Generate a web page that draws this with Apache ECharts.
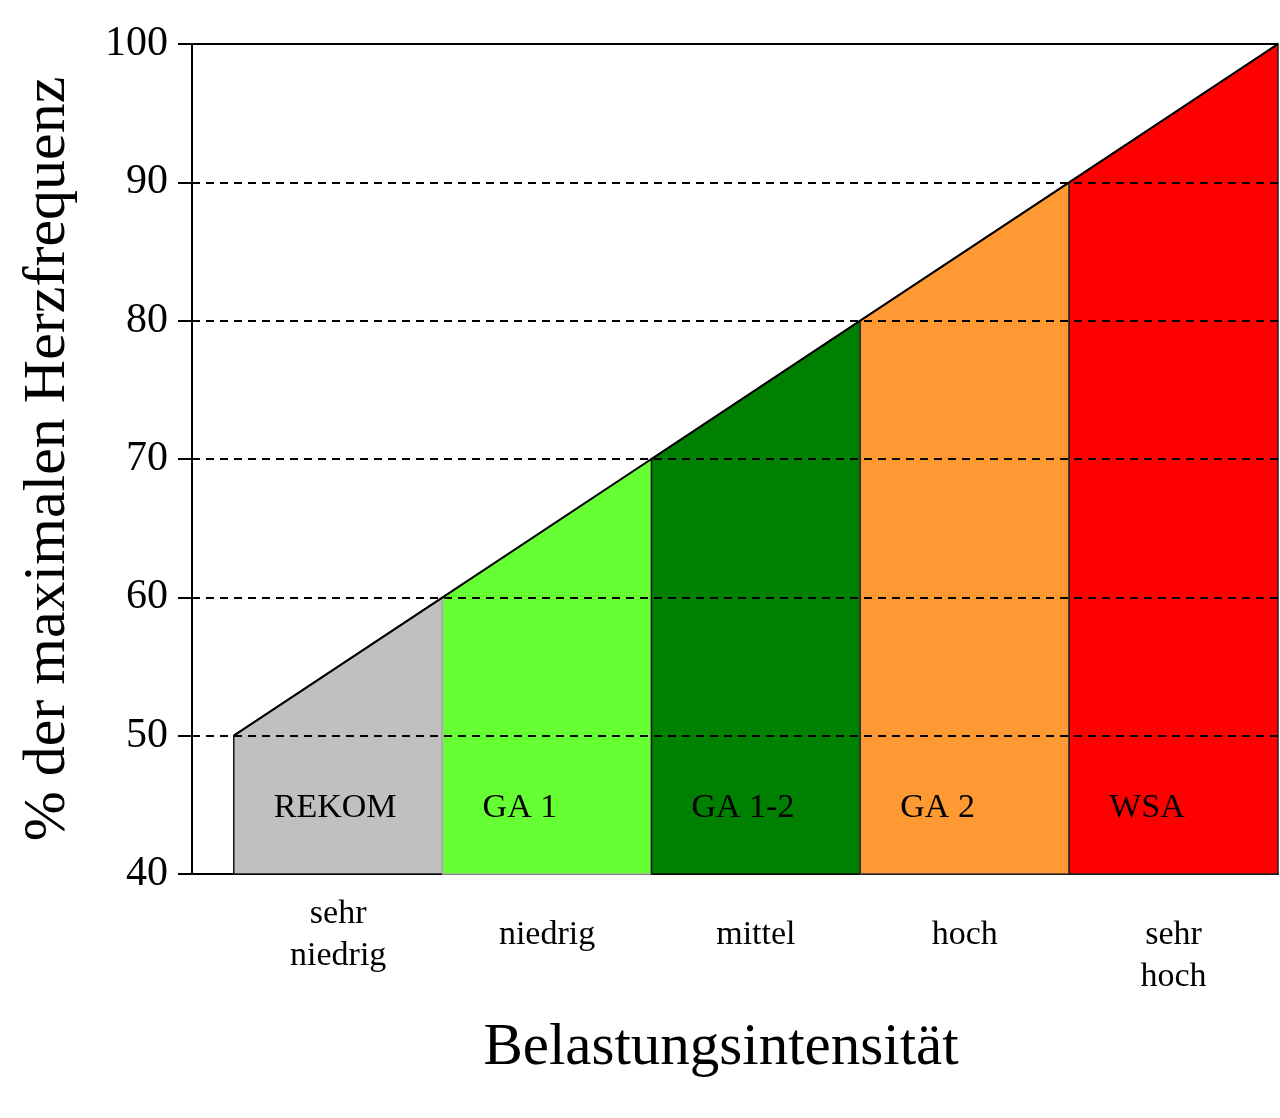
<!DOCTYPE html>
<html>
<head>
<meta charset="utf-8">
<script src="https://cdn.jsdelivr.net/npm/echarts@6/dist/echarts.min.js"></script>
<style>html,body{margin:0;padding:0;background:#fff;}#chart{width:1280px;height:1118px;}</style>
</head>
<body>
<div id="chart"></div>
<script>
// ---- data ----
var zoneNames = ['REKOM', 'GA 1', 'GA 1-2', 'GA 2', 'WSA'];
var categoryLabels = ['sehr\nniedrig', 'niedrig', 'mittel', 'hoch', 'sehr\nhoch'];
var zoneStart = [0, 1, 2, 3, 4];
var zoneEnd = [1, 2, 3, 4, 5];
var hrStart = [50, 60, 70, 80, 90];   // % HFmax at zone start
var hrEnd = [60, 70, 80, 90, 100];    // % HFmax at zone end
var gridLevels = [50, 60, 70, 80, 90];
var yTicks = [40, 50, 60, 70, 80, 90, 100];

// ---- styles ----
var zoneColors = ['#c0c0c0', '#66ff33', '#008000', '#ff9933', '#ff0000'];
var zoneStrokes = ['#111111', '#b0b0b0', '#111111', '#333333', '#222222'];
var FONT = "'Liberation Serif', 'Times New Roman', serif";

var zoneData = zoneNames.map(function (n, i) {
  return [zoneStart[i], zoneEnd[i], hrStart[i], hrEnd[i], i];
});
var diagonal = [[zoneStart[0], hrStart[0]]].concat(zoneEnd.map(function (x, i) { return [x, hrEnd[i]]; }));
var catCenters = zoneStart.map(function (s, i) { return (s + zoneEnd[i]) / 2; });

var chart = echarts.init(document.getElementById('chart'));
chart.setOption({
  animation: false,
  backgroundColor: '#ffffff',
  grid: { left: 192, right: 2, top: 44, bottom: 244 },
  xAxis: {
    type: 'value', min: -0.2, max: 5,
    name: 'Belastungsintensität',
    nameLocation: 'middle', nameGap: 145,
    nameTextStyle: { fontFamily: FONT, fontSize: 59, color: '#000', padding: [0, 28, 0, 0] },
    axisLine: { show: true, onZero: false, lineStyle: { color: '#000', width: 2 } },
    axisTick: { show: false },
    splitLine: { show: false },
    axisLabel: {
      customValues: catCenters,
      margin: 61,
      verticalAlign: 'middle',
      formatter: function (v) {
        var i = Math.floor(v);
        var lines = categoryLabels[i].split('\n');
        if (i === 4) lines = [' '].concat(lines);
        return lines.map(function (l) { return '{a|' + l + '}'; }).join('\n');
      },
      rich: { a: { fontFamily: FONT, fontSize: 34, lineHeight: 42, color: '#000' } }
    }
  },
  yAxis: {
    type: 'value', min: 40, max: 100, interval: 10,
    name: '% der maximalen Herzfrequenz',
    nameLocation: 'middle', nameRotate: 90, nameGap: 114,
    nameTextStyle: { fontFamily: FONT, fontSize: 60, color: '#000' },
    axisLine: { show: true, onZero: false, lineStyle: { color: '#000', width: 2 } },
    axisTick: { show: true, length: 14, lineStyle: { color: '#000', width: 2 } },
    splitLine: { show: false },
    axisLabel: { fontFamily: FONT, fontSize: 42, color: '#000', margin: 24 }
  },
  series: [
    {
      type: 'custom',
      z: 2,
      data: zoneData,
      encode: { x: [0, 1], y: [2, 3] },
      renderItem: function (params, api) {
        var x0 = api.value(0), x1 = api.value(1), y0 = api.value(2), y1 = api.value(3);
        var i = api.value(4);
        var bl = api.coord([x0, 40]), br = api.coord([x1, 40]);
        var tr = api.coord([x1, y1]), tl = api.coord([x0, y0]);
        return {
          type: 'group',
          children: [
            {
              type: 'polygon',
              shape: { points: [bl, br, tr, tl] },
              style: { fill: zoneColors[i], stroke: zoneStrokes[i], lineWidth: 1.5 }
            },
            {
              type: 'text',
              z2: 10,
              style: {
                text: zoneNames[i], x: tl[0] + 40, y: bl[1] - 66,
                fill: '#000', font: '34px ' + FONT,
                align: 'left', verticalAlign: 'middle'
              }
            }
          ]
        };
      }
    },
    {
      type: 'line',
      z: 5,
      data: diagonal,
      symbol: 'none',
      lineStyle: { color: '#000', width: 2 },
      markLine: {
        silent: true,
        symbol: 'none',
        label: { show: false },
        lineStyle: { color: '#000', width: 1.8, type: [8, 6] },
        data: gridLevels.map(function (v) { return { yAxis: v }; }).concat([
          { yAxis: 100, lineStyle: { type: 'solid', width: 2, color: '#000' } }
        ])
      }
    }
  ]
});
</script>
</body>
</html>
